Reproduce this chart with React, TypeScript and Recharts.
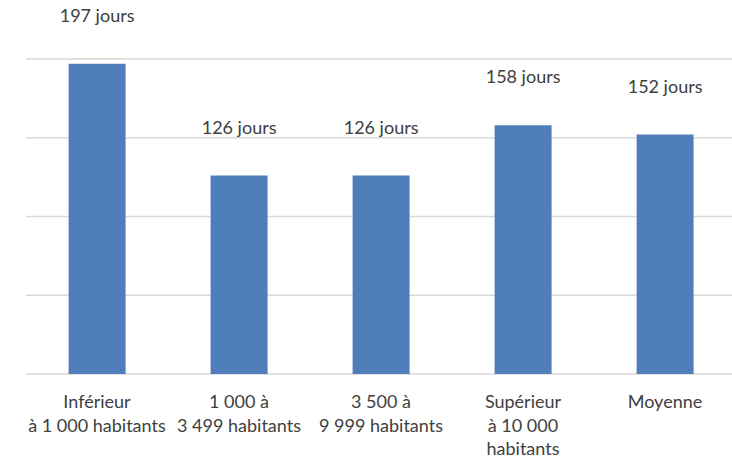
import { Bar, BarChart, CartesianGrid, LabelList, XAxis, YAxis } from "recharts";

const CATEGORIES = [
  "Inférieur\nà 1 000 habitants",
  "1 000 à\n3 499 habitants",
  "3 500 à\n9 999 habitants",
  "Supérieur\nà 10 000\nhabitants",
  "Moyenne",
];
const DAYS = [197, 126, 126, 158, 152];
const Y_TICKS = [0, 50, 100, 150, 200];

const data = CATEGORIES.map((category, i) => ({ category, days: DAYS[i] }));

const FONT = "Lato, 'Open Sans', sans-serif";
const TEXT = "#404040";

function CategoryTick({ x, y, payload }: { x?: number; y?: number; payload?: { value: string } }) {
  const lines = String(payload?.value ?? "").split("\n");
  return (
    <text x={x} y={y} textAnchor="middle" fill={TEXT} fontSize={18} fontFamily={FONT}>
      {lines.map((line, i) => (
        <tspan key={i} x={x} dy={i === 0 ? 28 : 23.5}>
          {line}
        </tspan>
      ))}
    </text>
  );
}

function DaysLabel(props: any) {
  const { x, y, width, value } = props;
  return (
    <text x={x + width / 2} y={y - 42} textAnchor="middle" fill={TEXT} fontSize={18} fontFamily={FONT}>
      {value} jours
    </text>
  );
}

export default function App() {
  return (
    <div style={{ position: "absolute", left: 0, top: 0, width: 732, height: 458, overflow: "hidden", background: "#fff" }}>
      <BarChart
        width={736}
        height={458}
        data={data}
        margin={{ top: 59, right: 0, left: 26, bottom: 0 }}
        barCategoryGap="30%"
      >
        <CartesianGrid vertical={false} stroke="#D9D9D9" strokeWidth={1.5} />
        <XAxis
          dataKey="category"
          axisLine={false}
          tickLine={false}
          height={84}
          interval={0}
          tick={<CategoryTick />}
          tickMargin={0}
        />
        <YAxis hide domain={[0, 200]} ticks={Y_TICKS} />
        <Bar dataKey="days" fill="#4F7EBB" isAnimationActive={false}>
          <LabelList dataKey="days" content={<DaysLabel />} />
        </Bar>
      </BarChart>
    </div>
  );
}
